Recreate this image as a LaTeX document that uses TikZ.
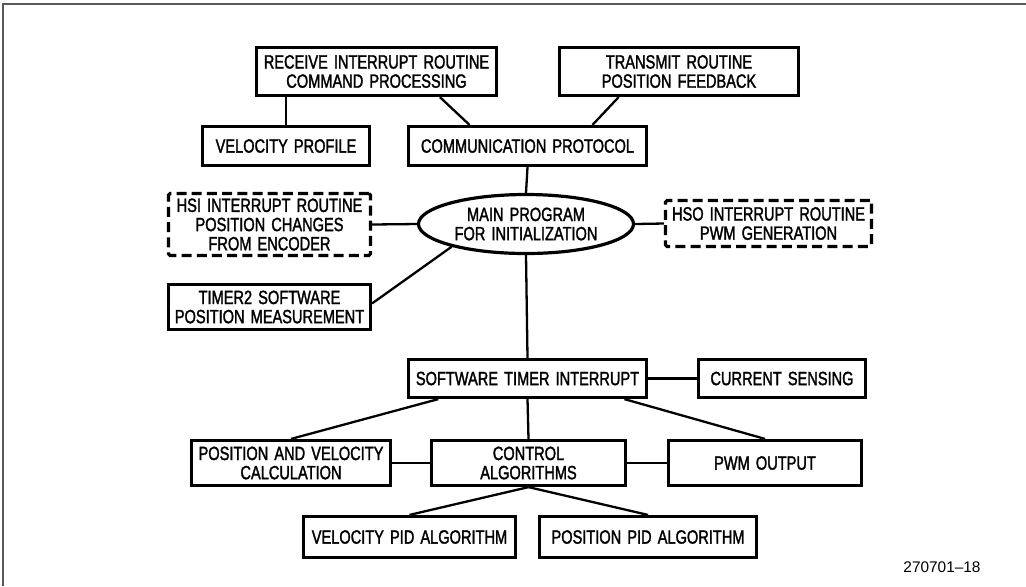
\documentclass[tikz,border=0pt]{standalone}
\usepackage{fontspec}
\setmainfont{Liberation Sans}
\newfontfamily\cadfont[FakeStretch=0.76,FakeBold=1.6,WordSpace={1.5}]{Liberation Sans}
\usetikzlibrary{shapes.geometric}
\begin{document}
\begin{tikzpicture}[x=0.5pt, y=-0.5pt,
  box/.style={draw, line width=1.6pt, inner sep=0pt, align=center,
    font=\cadfont\fontsize{9.6}{9.6}\selectfont},
  dbox/.style={box, dash pattern=on 5pt off 2.6pt, rounded corners=0.8pt},
  oval/.style={box, ellipse},
  link/.style={line width=1.15pt}]
\useasboundingbox (0,0) rectangle (1026,586);
\draw[line width=1pt, black!65] (3,586) -- (3,4) -- (1026,4);

\node[box, minimum width=120pt, minimum height=24pt] (recv) at (376.5,71.5) {RECEIVE INTERRUPT ROUTINE\\COMMAND PROCESSING};
\node[box, minimum width=119.5pt, minimum height=24pt] (trans) at (679,71.5) {TRANSMIT ROUTINE\\POSITION FEEDBACK};
\node[box, minimum width=83.5pt, minimum height=19.5pt] (velprof) at (286,146) {VELOCITY PROFILE};
\node[box, minimum width=119pt, minimum height=19.5pt] (comm) at (527.5,146) {COMMUNICATION PROTOCOL};
\node[oval, minimum width=107.5pt, minimum height=29.5pt] (main) at (526,224) {MAIN PROGRAM\\FOR INITIALIZATION};
\node[dbox, minimum width=101pt, minimum height=31pt] (hsi) at (269.5,224.5) {HSI INTERRUPT ROUTINE\\POSITION CHANGES\\FROM ENCODER};
\node[dbox, minimum width=103pt, minimum height=23pt] (hso) at (768.5,223.5) {HSO INTERRUPT ROUTINE\\PWM GENERATION};
\node[box, minimum width=101pt, minimum height=22.5pt] (timer2) at (269.5,307) {TIMER2 SOFTWARE\\POSITION MEASUREMENT};
\node[box, minimum width=119pt, minimum height=19pt] (swtimer) at (527.5,378.5) {SOFTWARE TIMER INTERRUPT};
\node[box, minimum width=83.5pt, minimum height=19pt] (current) at (782,378.5) {CURRENT SENSING};
\node[box, minimum width=99.5pt, minimum height=22.5pt] (posvel) at (291,463) {POSITION AND VELOCITY\\CALCULATION};
\node[box, minimum width=97pt, minimum height=22.5pt] (control) at (528.5,463) {CONTROL\\ALGORITHMS};
\node[box, minimum width=96.5pt, minimum height=22.5pt] (pwm) at (765,463) {PWM OUTPUT};
\node[box, minimum width=106pt, minimum height=20.5pt] (velpid) at (409.5,537) {VELOCITY PID ALGORITHM};
\node[box, minimum width=108.5pt, minimum height=20.5pt] (pospid) at (648,537) {POSITION PID ALGORITHM};
\node[font=\fontsize{7.7}{9}\selectfont] (fig) at (942,567) {270701--18};

\draw[link] (velprof.north) -- (velprof.north |- recv.south);
\draw[link] (recv.-22.5) -- (comm.160.9);
\draw[link] (trans.-157.3) -- (comm.18.9);
\draw[link] (comm.south) -- (main.north);
\draw[link] (hsi.east) -- (main.west);
\draw[link] (main.east) -- (hso.west);
\draw[link] (timer2.2.2) -- (main.-163);
\draw[link] (main.south) -- (swtimer.north);
\draw[link] (swtimer.east) -- (current.west);
\draw[link] (swtimer.-167.5) -- (posvel.north);
\draw[link] (swtimer.south) -- (control.north);
\draw[link] (swtimer.-12.5) -- (pwm.north);
\draw[link] (posvel.east) -- (control.west);
\draw[link] (control.east) -- (pwm.west);
\draw[link] (control.south) -- (velpid.north);
\draw[link] (control.south) -- (pospid.north);
\end{tikzpicture}
\end{document}
